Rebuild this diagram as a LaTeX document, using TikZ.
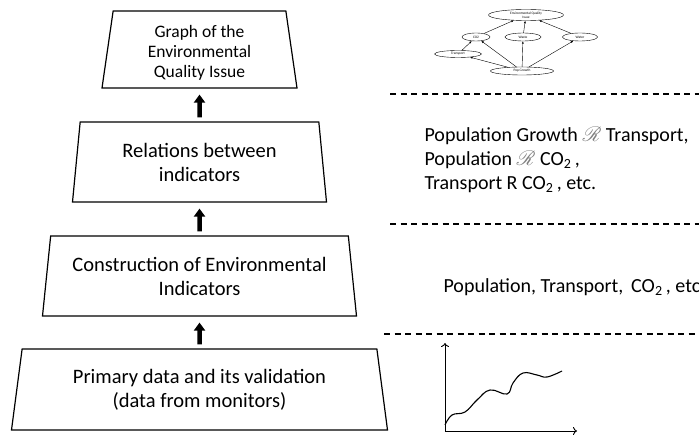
\documentclass[tikz,border=0pt]{standalone}
\usepackage{fontspec}
\setmainfont{Carlito}
\usepackage{mathrsfs}
\usepackage{tikz}
\usetikzlibrary{positioning}
\usetikzlibrary{shapes,shapes.geometric,arrows.meta}
\tikzstyle{level} = [trapezium, draw, line width=1.2pt, text centered, align=center, trapezium stretches body, inner sep=0pt, font=\fontsize{20.5}{24}\selectfont]
\tikzstyle{upward} = [draw, line width=4.5pt, -{Triangle[width=11pt,length=8pt]}, shorten <=4pt, shorten >=6pt]
\tikzstyle{note} = [draw=none, fill=none, align=left, anchor=west, font=\fontsize{20}{24}\selectfont]
\tikzstyle{sep} = [draw, line width=1.3pt, dash pattern=on 6pt off 4.5pt]
\tikzstyle{tiny} = [ellipse, draw, line width=0.4pt, inner sep=0pt, align=center, font=\fontsize{3.5}{4}\selectfont]
\tikzstyle{link} = [draw, line width=0.4pt, -{Latex[length=2.5pt,width=2pt]}]
\newcommand{\rel}{\textcolor{gray}{$\mathscr{R}$}}

\begin{document}
\begin{tikzpicture}[x=1pt, y=1pt, auto]
	\useasboundingbox (0,0) rectangle (699,434);

	% place nodes
	\node [level, minimum width=195pt, minimum height=77pt, trapezium angle=79.7, font=\fontsize{17.5}{20}\selectfont] (L1) at (199.5,384.5) {\rule{0pt}{18.5pt}Graph of the\\Environmental\\Quality Issue};
	\node [level, minimum width=254pt, minimum height=80pt, trapezium angle=78.7, below of=L1, node distance=112.5pt] (L2) {Relations between\\indicators};
	\node [level, minimum width=314pt, minimum height=80pt, trapezium angle=78, below of=L2, node distance=114pt] (L3) {Construction of Environmental\\Indicators};
	\node [level, minimum width=376pt, minimum height=81pt, trapezium angle=75.5, below of=L3, node distance=113.5pt] (L4) {Primary data and its validation\\(data from monitors)};

	% draw edges
	\path [upward] (L2.north) -- (L1.south);
	\path [upward] (L3.north) -- (L2.south);
	\path [upward] (L4.north) -- (L3.south);

	% separators
	\path [sep] (390,340) -- (699,340);
	\path [sep] (390,210) -- (699,210);
	\path [sep] (384,100) -- (699,100);

	% text on the right
	\node [note] (T2) at (421,274) {Population Growth \rel{} Transport,\\Population \rel{} CO\textsubscript{2}\,,\\Transport R CO\textsubscript{2}\,, etc.};
	\node [note] (T3) at (440,147) {Population, Transport,\ \,CO\textsubscript{2}\,, etc.};

	% small graph of the issue
	\node [tiny, minimum width=75pt, minimum height=11pt] (G0) at (526,419) {Environmental Quality\\Issue};
	\node [tiny, minimum width=28pt, minimum height=8pt]  (G1) at (476,397) {CO2};
	\node [tiny, minimum width=36pt, minimum height=8pt]  (G2) at (523,397) {Waste};
	\node [tiny, minimum width=35pt, minimum height=8pt]  (G3) at (580,397) {Water};
	\node [tiny, minimum width=47pt, minimum height=7pt]  (G4) at (458,380) {Transport};
	\node [tiny, minimum width=63pt, minimum height=8pt]  (G5) at (522,363) {Pop Growth};

	\path [link] (G1) -- (G0);
	\path [link] (G2) -- (G0);
	\path [link] (G3) -- (G0);
	\path [link] (G4) -- (G1);
	\path [link] (G5) -- (G4);
	\path [link] (G5) -- (G1);
	\path [link] (G5) -- (G2);
	\path [link] (G5) -- (G3);

	% data plot
	\coordinate (O) at (445,3);
	\coordinate (Y) at (445,91);
	\coordinate (X) at (577,3);
	\draw [line width=0.9pt, -{To[length=4pt,width=8pt]}] (O) -- (Y);
	\draw [line width=0.9pt, -{To[length=4pt,width=8pt]}] (O) -- (X);
	\draw [line width=1.1pt] plot [smooth, tension=0.7] coordinates {(445,9) (452,19) (465,22) (477,34) (490,44) (507,40) (513,51) (523,61) (537,59) (547,57) (562,63)};
\end{tikzpicture}
\end{document}
